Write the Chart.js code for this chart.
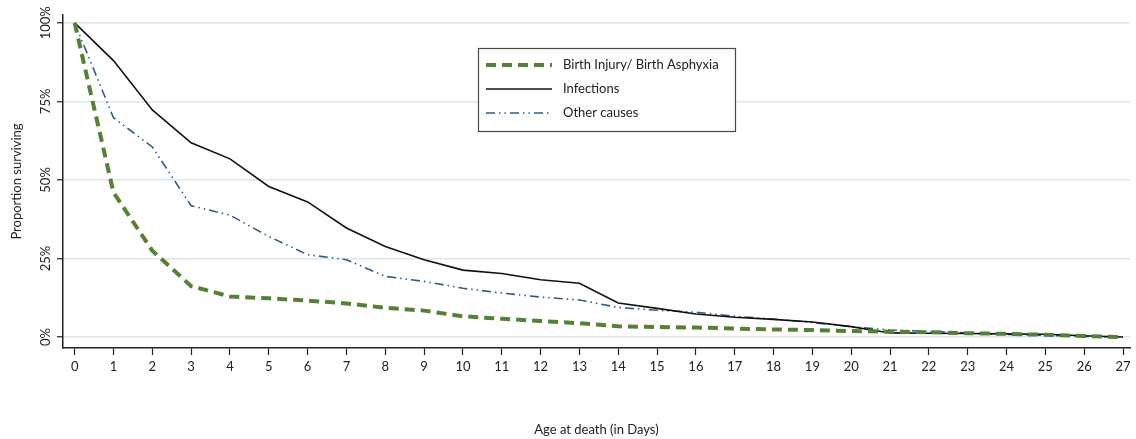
<!DOCTYPE html>
<html>
<head>
<meta charset="utf-8">
<script src="https://cdn.jsdelivr.net/npm/chart.js@4.4.1/dist/chart.umd.min.js"></script>
<style>
  html, body { margin: 0; padding: 0; background: #fff; }
  #wrap { width: 1136px; height: 439px; position: relative; }
</style>
</head>
<body>
<div id="wrap"><canvas id="survivalChart"></canvas></div>
<script>
const days = [0, 1, 2, 3, 4, 5, 6, 7, 8, 9, 10, 11, 12, 13, 14, 15, 16, 17, 18, 19, 20, 21, 22, 23, 24, 25, 26, 27];
const birthInjury = [100, 46, 27.5, 16.2, 12.9, 12.3, 11.6, 10.7, 9.3, 8.4, 6.6, 5.8, 5.1, 4.4, 3.4, 3.2, 3.0, 2.7, 2.4, 2.2, 1.9, 1.7, 1.5, 1.2, 1.0, 0.7, 0.3, 0];
const infections = [100, 88, 72.3, 61.8, 56.7, 47.9, 43, 34.7, 28.8, 24.6, 21.3, 20.2, 18.2, 17.1, 10.8, 9.1, 7.3, 6.3, 5.6, 4.8, 3.3, 1.3, 1.2, 1.1, 1.0, 0.9, 0.4, 0];
const otherCauses = [100, 69.8, 60.5, 41.8, 38.8, 32, 26.2, 24.6, 19.3, 17.7, 15.5, 14, 12.7, 11.8, 9.4, 8.5, 7.9, 6.6, 5.7, 4.6, 3.3, 2.2, 1.8, 1.3, 0.8, 0.5, 0.2, 0];
const yTicks = [0, 25, 50, 75, 100];
const seriesNames = ['Birth Injury/ Birth Asphyxia', 'Infections', 'Other causes'];

const FONT = 'Lato, "Open Sans", sans-serif';

function points(values) {
    return values.map((v, i) => ({ x: days[i], y: v }));
}

// custom text: rotated y tick labels, axis titles and the boxed legend
const extras = {
    id: 'extras',
    afterDraw(chart) {
        const ctx = chart.ctx;
        const yScale = chart.scales.y;
        const area = chart.chartArea;
        ctx.save();
        ctx.fillStyle = '#222';
        ctx.font = '13px ' + FONT;
        ctx.textAlign = 'center';
        ctx.textBaseline = 'middle';

        yTicks.forEach(v => {
            const py = yScale.getPixelForValue(v);
            ctx.save();
            ctx.translate(46, py);
            ctx.rotate(-Math.PI / 2);
            ctx.fillText(v + '%', 0, 0);
            ctx.restore();
        });

        ctx.save();
        ctx.translate(17, (area.top + area.bottom) / 2);
        ctx.rotate(-Math.PI / 2);
        ctx.fillText('Proportion surviving', 0, 0);
        ctx.restore();

        ctx.fillText('Age at death (in Days)', (area.left + area.right) / 2, 430);

        // legend
        const lx = 478, ly = 48, lw = 257, lh = 83;
        ctx.fillStyle = '#fff';
        ctx.fillRect(lx, ly, lw, lh);
        ctx.strokeStyle = '#4a4a4a';
        ctx.lineWidth = 1.2;
        ctx.strokeRect(lx + 0.5, ly + 0.5, lw, lh);
        chart.data.datasets.forEach((ds, i) => {
            const ry = 65 + i * 24;
            ctx.save();
            ctx.strokeStyle = ds.borderColor;
            ctx.lineWidth = ds.borderWidth;
            ctx.setLineDash(ds.borderDash || []);
            ctx.beginPath();
            ctx.moveTo(486, ry);
            ctx.lineTo(552, ry);
            ctx.stroke();
            ctx.restore();
            ctx.fillStyle = '#222';
            ctx.textAlign = 'left';
            ctx.fillText(ds.label, 563, ry);
        });
        ctx.restore();
    }
};

new Chart(document.getElementById('survivalChart'), {
    type: 'line',
    data: {
        datasets: [
            {
                label: seriesNames[0],
                data: points(birthInjury),
                borderColor: '#548235',
                borderWidth: 4,
                borderDash: [10, 6],
                pointRadius: 0,
                tension: 0
            },
            {
                label: seriesNames[1],
                data: points(infections),
                borderColor: '#111111',
                borderWidth: 1.6,
                pointRadius: 0,
                tension: 0
            },
            {
                label: seriesNames[2],
                data: points(otherCauses),
                borderColor: '#2f5b8c',
                borderWidth: 1.6,
                borderDash: [9, 4, 1.5, 4, 1.5, 4],
                pointRadius: 0,
                tension: 0
            }
        ]
    },
    options: {
        responsive: true,
        maintainAspectRatio: false,
        animation: false,
        layout: { padding: { left: 0, top: 15, right: 6, bottom: 0 } },
        plugins: {
            legend: { display: false },
            tooltip: { enabled: false }
        },
        scales: {
            x: {
                type: 'linear',
                min: -0.3,
                max: 27.18,
                afterFit: function(scale) { scale.height = 91; },
                ticks: {
                    stepSize: 1,
                    includeBounds: false,
                    autoSkip: false,
                    maxRotation: 0,
                    padding: 4,
                    color: '#222',
                    font: { family: FONT, size: 13 }
                },
                grid: {
                    drawOnChartArea: false,
                    drawTicks: true,
                    tickLength: 7,
                    tickColor: '#222',
                    tickWidth: 1.2
                },
                border: { display: true, color: '#222', width: 1.5 }
            },
            y: {
                type: 'linear',
                min: -3.5,
                max: 102.5,
                afterFit: function(scale) { scale.width = 63; },
                afterBuildTicks: function(scale) {
                    scale.ticks = yTicks.map(v => ({ value: v }));
                },
                ticks: { display: false },
                grid: {
                    color: '#d9e8ee',
                    lineWidth: 1.5,
                    drawTicks: true,
                    tickLength: 6,
                    tickColor: '#222',
                    tickWidth: 1.2
                },
                border: { display: true, color: '#222', width: 1.5 }
            }
        }
    },
    plugins: [extras]
});
</script>
</body>
</html>
